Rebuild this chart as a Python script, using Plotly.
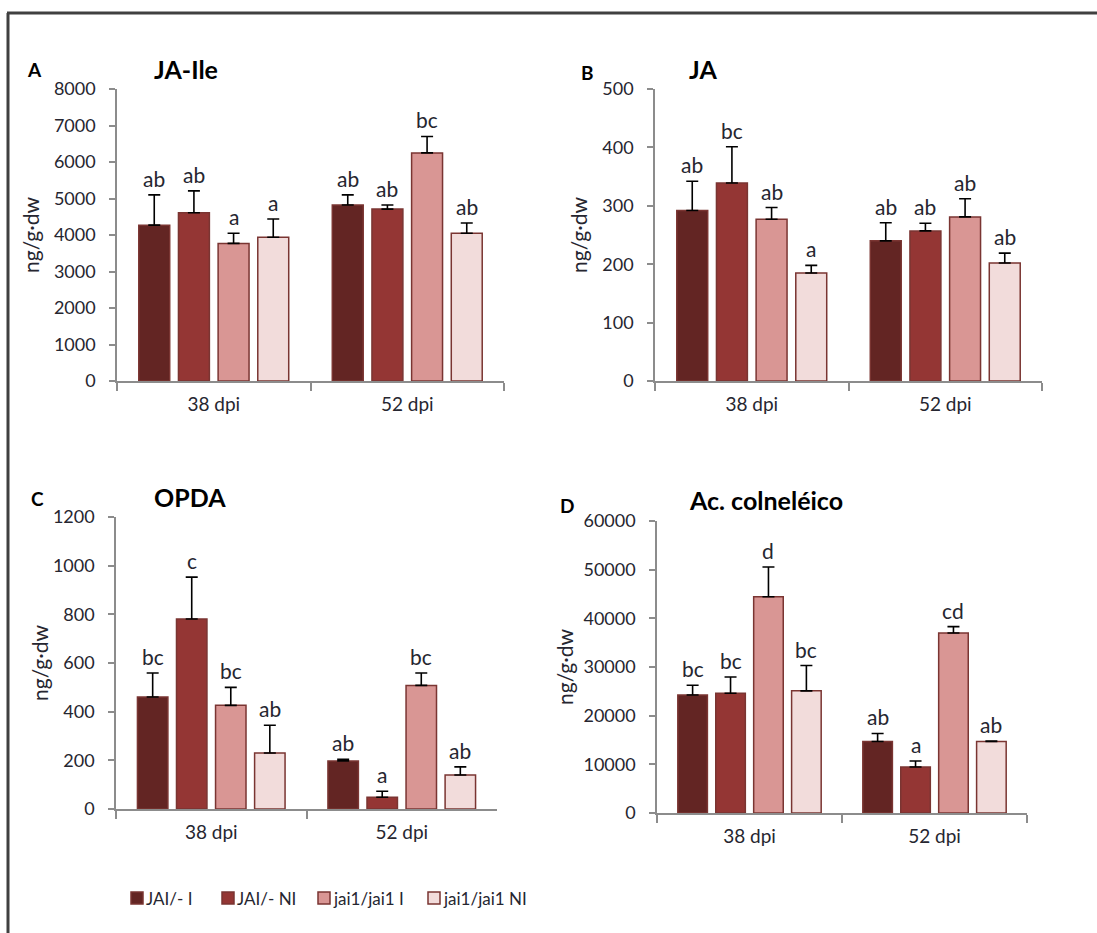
import plotly.graph_objects as go

# ---- data -------------------------------------------------------------
categories = ["38 dpi", "52 dpi"]
genotypes = ["JAI/- I", "JAI/- NI", "jai1/jai1 I", "jai1/jai1 NI"]

# means / upper error per genotype, [38 dpi, 52 dpi]
jaile_mean = [[4270, 4820], [4610, 4710], [3770, 6250], [3940, 4050]]
jaile_err = [[830, 280], [600, 110], [280, 450], [500, 280]]
jaile_letters = [["ab", "ab"], ["ab", "ab"], ["a", "bc"], ["a", "ab"]]

ja_mean = [[292, 240], [339, 257], [277, 281], [185, 202]]
ja_err = [[50, 31], [62, 13], [20, 31], [13, 17]]
ja_letters = [["ab", "ab"], ["bc", "ab"], ["ab", "ab"], ["a", "ab"]]

opda_mean = [[460, 197], [781, 48], [426, 508], [230, 140]]
opda_err = [[99, 7], [172, 25], [74, 51], [114, 33]]
opda_letters = [["bc", "ab"], ["c", "a"], ["bc", "bc"], ["ab", "ab"]]

colne_mean = [[24250, 14700], [24600, 9450], [44450, 37000], [25100, 14700]]
colne_err = [[2000, 1650], [3350, 1250], [6100, 1300], [5200, 100]]
colne_letters = [["bc", "ab"], ["bc", "a"], ["d", "cd"], ["bc", "ab"]]

# ---- style ------------------------------------------------------------
colors = ["#632523", "#943634", "#d99694", "#f2dcdb"]
outline = "#7a3532"
axis_gray = "#8c8c8c"
text_col = "#262630"
FONT = "Lato"
BARGAP = 0.18
BARGROUPGAP = 0.22
W, H = 1097, 933

panels = [
    dict(tag="A", title="JA-Ile", mean=jaile_mean, err=jaile_err, letters=jaile_letters,
         ymax=8000, dtick=1000, px=(117, 504), py=(89, 381),
         tag_xy=(34, 70), title_x=152, title_y=69, ytitle_x=30),
    dict(tag="B", title="JA", mean=ja_mean, err=ja_err, letters=ja_letters,
         ymax=500, dtick=100, px=(655, 1042), py=(89, 381),
         tag_xy=(587, 72), title_x=687, title_y=69, ytitle_x=578),
    dict(tag="C", title="OPDA", mean=opda_mean, err=opda_err, letters=opda_letters,
         ymax=1200, dtick=200, px=(116, 497), py=(517, 809),
         tag_xy=(37, 498), title_x=152, title_y=497, ytitle_x=39),
    dict(tag="D", title="Ac. colneléico", mean=colne_mean, err=colne_err, letters=colne_letters,
         ymax=60000, dtick=10000, px=(657, 1027), py=(521, 813),
         tag_xy=(567, 505), title_x=687, title_y=500, ytitle_x=564),
]


def px2x(v):
    return v / W


def px2y(v):
    return 1 - v / H


fig = go.Figure()
annotations = []
slot = (1 - BARGAP) / 4

for i, p in enumerate(panels):
    n = "" if i == 0 else str(i + 1)
    xa, ya = "x" + n, "y" + n
    for g in range(4):
        fig.add_trace(go.Bar(
            x=categories, y=p["mean"][g], name=genotypes[g], showlegend=False,
            marker=dict(color=colors[g], line=dict(color=outline, width=1.5)),
            error_y=dict(type="data", array=p["err"][g], arrayminus=[0, 0],
                         symmetric=False, color="black", thickness=1.6, width=6),
            xaxis=xa, yaxis=ya,
        ))
        for c in range(2):
            annotations.append(dict(
                x=c + (g - 1.5) * slot, y=p["mean"][g][c] + p["err"][g][c],
                xref=xa, yref=ya, text=p["letters"][g][c], showarrow=False,
                yanchor="bottom", yshift=2,
                font=dict(family=FONT, size=21, color=text_col),
            ))

    fig.layout["xaxis" + n] = dict(
        domain=[px2x(p["px"][0]), px2x(p["px"][1])], anchor=ya, automargin=False,
        type="category", range=[-0.5, 1.5], showline=True, linecolor=axis_gray,
        linewidth=1.5, ticks="outside", tickson="boundaries", ticklen=8,
        tickcolor=axis_gray, tickwidth=1.5, showgrid=False, zeroline=False,
        ticklabelstandoff=5, tickfont=dict(family=FONT, size=19, color=text_col),
    )
    fig.layout["yaxis" + n] = dict(
        domain=[px2y(p["py"][1]), px2y(p["py"][0])], anchor=xa, automargin=False,
        range=[0, p["ymax"]], dtick=p["dtick"], tickformat="d", showline=True,
        linecolor=axis_gray, linewidth=1.5, ticks="outside", ticklen=6,
        tickcolor=axis_gray, tickwidth=1.5, showgrid=False, zeroline=False,
        ticklabelstandoff=10, tickfont=dict(family=FONT, size=18, color=text_col),
    )

    # panel letter, compound title and y-axis label
    annotations.append(dict(
        x=px2x(p["tag_xy"][0]), y=px2y(p["tag_xy"][1]), xref="paper", yref="paper",
        text="<b>" + p["tag"] + "</b>", showarrow=False, xanchor="center", yanchor="middle",
        font=dict(family=FONT, size=19, color="black"),
    ))
    annotations.append(dict(
        x=px2x(p["title_x"]), y=px2y(p["title_y"]), xref="paper", yref="paper",
        text="<b>" + p["title"] + "</b>", showarrow=False, xanchor="left", yanchor="middle",
        font=dict(family=FONT, size=25, color="black"),
    ))
    annotations.append(dict(
        x=px2x(p["ytitle_x"]), y=px2y((p["py"][0] + p["py"][1]) / 2), xref="paper",
        yref="paper", text="ng/g·dw", textangle=-90, showarrow=False,
        xanchor="center", yanchor="middle",
        font=dict(family=FONT, size=21, color=text_col),
    ))

# legend drawn as swatches + labels along the bottom
shapes = []
legend_x = [131, 222, 318, 428]
for g in range(4):
    x0 = legend_x[g]
    shapes.append(dict(
        type="rect", xref="paper", yref="paper",
        x0=px2x(x0), x1=px2x(x0 + 12), y0=px2y(904), y1=px2y(892),
        fillcolor=colors[g], line=dict(color=outline, width=1.5),
    ))
    annotations.append(dict(
        x=px2x(x0 + 13), y=px2y(898), xref="paper", yref="paper",
        text=genotypes[g], showarrow=False, xanchor="left", yanchor="middle",
        font=dict(family=FONT, size=17, color=text_col),
    ))

# outer frame (top and left edges)
shapes.append(dict(type="line", xref="paper", yref="paper",
                   x0=px2x(7), x1=1, y0=px2y(13), y1=px2y(13),
                   line=dict(color="#404040", width=3)))
shapes.append(dict(type="line", xref="paper", yref="paper",
                   x0=px2x(8), x1=px2x(8), y0=px2y(13), y1=0,
                   line=dict(color="#404040", width=3)))

fig.update_layout(
    template="none",
    width=W, height=H, margin=dict(l=0, r=0, t=0, b=0, pad=0, autoexpand=False),
    paper_bgcolor="white", plot_bgcolor="white",
    barmode="group", bargap=BARGAP, bargroupgap=BARGROUPGAP,
    showlegend=False, annotations=annotations, shapes=shapes,
    font=dict(family=FONT),
)

fig.write_html("out.html")
